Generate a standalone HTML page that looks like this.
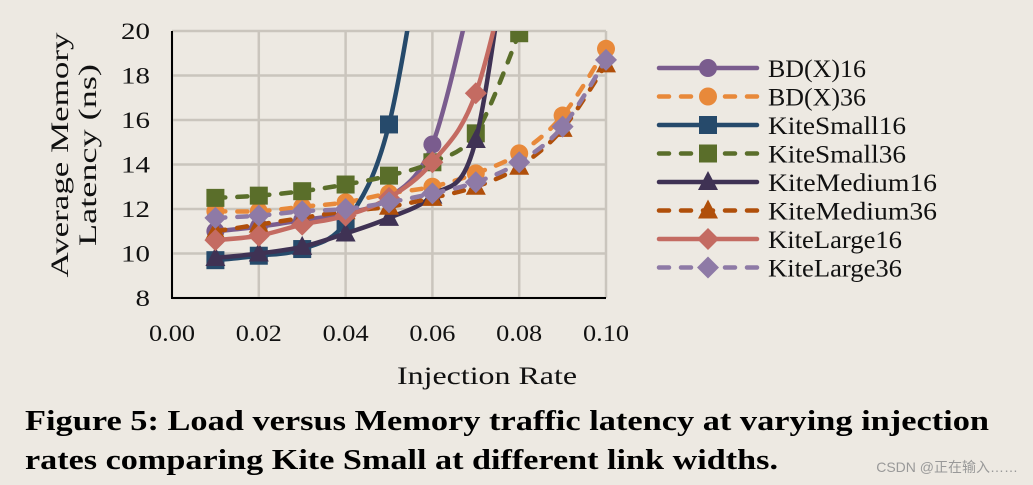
<!DOCTYPE html>
<html><head><meta charset="utf-8"><style>
body{margin:0;background:#ede9e2;}
svg{display:block;font-family:"Liberation Serif",serif;}
</style></head><body>
<svg id="chart" width="1033" height="485" viewBox="0 0 1033 485">
<rect width="1033" height="485" fill="#ede9e2"/>
<g id="grid"></g><g id="series"></g><g id="axes"></g><g id="legend"></g>
<text x="68" y="155" transform="rotate(-90 68 155)" text-anchor="middle" font-size="25" fill="#111" textLength="245" lengthAdjust="spacingAndGlyphs">Average Memory</text>
<text x="96" y="155" transform="rotate(-90 96 155)" text-anchor="middle" font-size="25" fill="#111" textLength="182" lengthAdjust="spacingAndGlyphs">Latency (ns)</text>
<text x="397" y="384" font-size="25" fill="#111" textLength="180" lengthAdjust="spacingAndGlyphs">Injection Rate</text>
<text x="25" y="430" font-size="28" font-weight="bold" fill="#000" textLength="964" lengthAdjust="spacingAndGlyphs">Figure 5: Load versus Memory traffic latency at varying injection</text>
<text x="25" y="469" font-size="28" font-weight="bold" fill="#000" textLength="753" lengthAdjust="spacingAndGlyphs">rates comparing Kite Small at different link widths.</text>
<text x="1018" y="472" text-anchor="end" font-size="14" fill="#999" font-family="Liberation Sans,'Noto Sans CJK SC',sans-serif">CSDN @正在输入……</text>
</svg>
<script>
const xTicks=[0,0.02,0.04,0.06,0.08,0.10];
const yTicks=[8,10,12,14,16,18,20];
const seriesNames=["BD(X)16","BD(X)36","KiteSmall16","KiteSmall36","KiteMedium16","KiteMedium36","KiteLarge16","KiteLarge36"];
const xBD16=[0.01,0.02,0.03,0.04,0.05,0.06,0.07];
const yBD16=[11.0,11.2,11.5,11.8,12.5,14.9,22.5];
const xBD36=[0.01,0.02,0.03,0.04,0.05,0.06,0.07,0.08,0.09,0.10];
const yBD36=[11.9,11.9,12.1,12.3,12.7,13.0,13.6,14.5,16.2,19.2];
const xKS16=[0.01,0.02,0.03,0.04,0.05,0.06];
const yKS16=[9.7,9.9,10.2,11.4,15.8,27];
const xKS36=[0.01,0.02,0.03,0.04,0.05,0.06,0.07,0.08];
const yKS36=[12.5,12.6,12.8,13.1,13.5,14.1,15.4,19.9];
const xKM16=[0.01,0.02,0.03,0.04,0.05,0.06,0.07,0.08];
const yKM16=[9.8,10.0,10.3,10.9,11.6,12.6,15.1,28];
const xKM36=[0.01,0.02,0.03,0.04,0.05,0.06,0.07,0.08,0.09,0.10];
const yKM36=[11.0,11.3,11.6,11.9,12.1,12.5,13.0,13.9,15.6,18.5];
const xKL16=[0.01,0.02,0.03,0.04,0.05,0.06,0.07,0.08];
const yKL16=[10.6,10.8,11.3,11.7,12.5,14.1,17.2,25];
const xKL36=[0.01,0.02,0.03,0.04,0.05,0.06,0.07,0.08,0.09,0.10];
const yKL36=[11.6,11.7,11.9,12.0,12.3,12.7,13.2,14.1,15.7,18.7];

const NS="http://www.w3.org/2000/svg";
const X0=172,X1=606,Y0=298,Y1=31;
const sx=v=>X0+(v-0)/(0.10)*(X1-X0);
const sy=v=>Y0-(v-8)/12*(Y0-Y1);
function mk(tag,attrs,parent){const e=document.createElementNS(NS,tag);for(const k in attrs)e.setAttribute(k,attrs[k]);parent.appendChild(e);return e;}
const svg=document.getElementById('chart');
const defs=mk('defs',{},svg);
const cp=mk('clipPath',{id:'plotclip'},defs);
mk('rect',{x:X0-20,y:Y1,width:X1-X0+40,height:Y0-Y1},cp);
const grid=document.getElementById('grid');
yTicks.forEach(t=>{
 const l=mk('line',{x1:X0,x2:X1,y1:sy(t),y2:sy(t),stroke:'#cac5bd','stroke-width':2.5},grid);
 
 
});
xTicks.forEach(t=>{
 const l=mk('line',{y1:Y1,y2:Y0,x1:sx(t),x2:sx(t),stroke:'#cac5bd','stroke-width':2.5},grid);
 
 
});
const axes=document.getElementById('axes');
let a=mk('line',{x1:X0,x2:X0,y1:Y1,y2:Y0+1,stroke:'#000','stroke-width':2},axes);


a=mk('line',{x1:X0,x2:X1,y1:Y0,y2:Y0,stroke:'#000','stroke-width':2},axes);


yTicks.forEach(t=>{
 const e=mk('text',{x:150,y:sy(t)+8,'text-anchor':'end','font-size':23,fill:'#111',textLength:String(t).length*14.5,lengthAdjust:'spacingAndGlyphs'},axes);
 e.textContent=t;
 
 
});
xTicks.forEach(t=>{
 const e=mk('text',{x:sx(t)-23,y:341,'font-size':23,fill:'#111',textLength:46,lengthAdjust:'spacingAndGlyphs'},axes);
 e.textContent=t.toFixed(2);
 
 
});
const styles=[
 {c:'#7a5c8e',d:false,m:'circle'},{c:'#e8893a',d:true,m:'circle'},
 {c:'#264a6b',d:false,m:'square'},{c:'#5a6e2a',d:true,m:'square'},
 {c:'#3f3254',d:false,m:'tri'},{c:'#b04f0a',d:true,m:'tri'},
 {c:'#c46b62',d:false,m:'diamond'},{c:'#8e7aa6',d:true,m:'diamond'}];
const legendLens=[98,98,138,138,169,169,134,134];
const xs=[xBD16,xBD36,xKS16,xKS36,xKM16,xKM36,xKL16,xKL36];
const ys=[yBD16,yBD36,yKS16,yKS36,yKM16,yKM36,yKL16,yKL36];
function path(pts){let d=`M${pts[0][0]},${pts[0][1]}`;for(let i=0;i<pts.length-1;i++){const p0=pts[Math.max(i-1,0)],p1=pts[i],p2=pts[i+1],p3=pts[Math.min(i+2,pts.length-1)];d+=` C${p1[0]+(p2[0]-p0[0])/6},${p1[1]+(p2[1]-p0[1])/6} ${p2[0]-(p3[0]-p1[0])/6},${p2[1]-(p3[1]-p1[1])/6} ${p2[0]},${p2[1]}`;}return d;}
function marker(type,x,y,c,g){
 if(type==='circle')return mk('circle',{cx:x,cy:y,r:9,fill:c},g);
 if(type==='square')return mk('rect',{x:x-9,y:y-9,width:18,height:18,fill:c},g);
 if(type==='tri')return mk('polygon',{points:`${x},${y-11} ${x+10},${y+8} ${x-10},${y+8}`,fill:c},g);
 return mk('polygon',{points:`${x},${y-11} ${x+11},${y} ${x},${y+11} ${x-11},${y}`,fill:c},g);
}
const sg=document.getElementById('series');
sg.setAttribute('clip-path','url(#plotclip)');
const legend=document.getElementById('legend');
styles.forEach((s,i)=>{
 const g=mk('g',{},sg);
 
 
 const pts=xs[i].map((v,j)=>[sx(v),sy(ys[i][j])]);
 const p=mk('path',{d:path(pts),fill:'none',stroke:s.c,'stroke-width':4.5,'stroke-linecap':'round','stroke-dasharray':s.d?'10 12':'none'},g);
 
 
 pts.forEach(pt=>{const m=marker(s.m,pt[0],pt[1],s.c,g);
  
  });
 const ly=68+i*28.5;
 const lg=mk('g',{},legend);
 
 
 mk('line',{x1:659,x2:757,y1:ly,y2:ly,stroke:s.c,'stroke-width':4.5,'stroke-linecap':'round','stroke-dasharray':s.d?'10 12':'none'},lg);
 marker(s.m,708,ly,s.c,lg);
 const t=mk('text',{x:768,y:ly+9,'font-size':25,fill:'#111',textLength:legendLens[i],lengthAdjust:'spacingAndGlyphs'},lg);
 t.textContent=seriesNames[i];
});
</script>
</body></html>
